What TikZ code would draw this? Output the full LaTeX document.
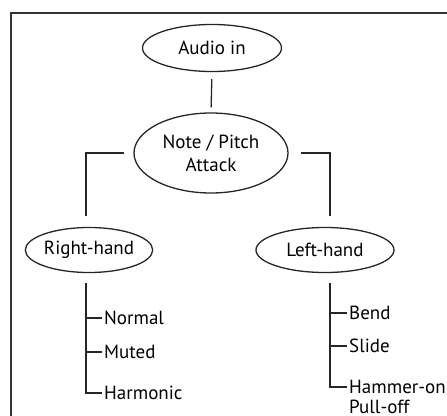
\documentclass[tikz,border=0pt]{standalone}
\usepackage{fontspec}
\setmainfont{PT Sans}
\usetikzlibrary{
    shapes.geometric,
    calc,
    positioning
}
\tikzset{bub/.style={ellipse, draw=black!85, line width=1.3pt, inner sep=0pt}}
\tikzset{leaf/.style={anchor=west, inner xsep=2pt, inner ysep=0pt}}
\tikzset{wire/.style={draw=black!85, line width=1.3pt}}

\begin{document}
\begin{tikzpicture}[x=1pt, y=-1pt, font=\fontsize{19}{20}\selectfont]
                        \clip (0,0) rectangle (447,415);
                        \draw[draw=black!80, line width=2pt] (11,13) rectangle (470,440);

                        \node[bub, minimum width=139, minimum height=47] (audio) at (212,48) {Audio in};
                        \node[bub, minimum width=154, minimum height=80, align=center, font=\fontsize{19}{23}\selectfont] (note) at (211,153) {Note / Pitch\\Attack};
                        \node[bub, minimum width=126, minimum height=45] (rh) at (89,250) {Right-hand};
                        \node[bub, minimum width=138, minimum height=45] (lh) at (325,250) {Left-hand};

                        \coordinate (rhstem) at ([xshift=-3pt, yshift=-10pt]rh.south);
                        \coordinate (lhstem) at ([xshift=5pt, yshift=-10pt]lh.south);

                        \node[leaf] (normal) at (102,318) {Normal};
                        \node[leaf] (muted) at (102,352) {Muted};
                        \node[leaf] (harmonic) at (102,393) {Harmonic};
                        \node[leaf] (bend) at (347,313) {Bend};
                        \node[leaf] (slide) at (347,346) {Slide};
                        \node[leaf, anchor=north west, align=left] (hammer) at (347,380) {Hammer-on\\Pull-off};

                        \draw[wire, shorten <=7pt, shorten >=5pt] (audio.south) -- (note.north);
                        \draw[wire] ([xshift=-9pt]note.west) -| ([xshift=-3pt, yshift=11pt]rh.north);
                        \draw[wire] ([xshift=12pt]note.east) -| ([xshift=5pt, yshift=11pt]lh.north);

                        \draw[wire]
                        (rhstem) |- (normal.west)
                        (rhstem) |- (muted.west)
                        (rhstem) |- (harmonic.west);
                        \draw[wire]
                        (lhstem) |- (bend.west)
                        (lhstem) |- (slide.west)
                        (lhstem) |- ([yshift=-7pt]hammer.north west);
                    \end{tikzpicture}
\end{document}
